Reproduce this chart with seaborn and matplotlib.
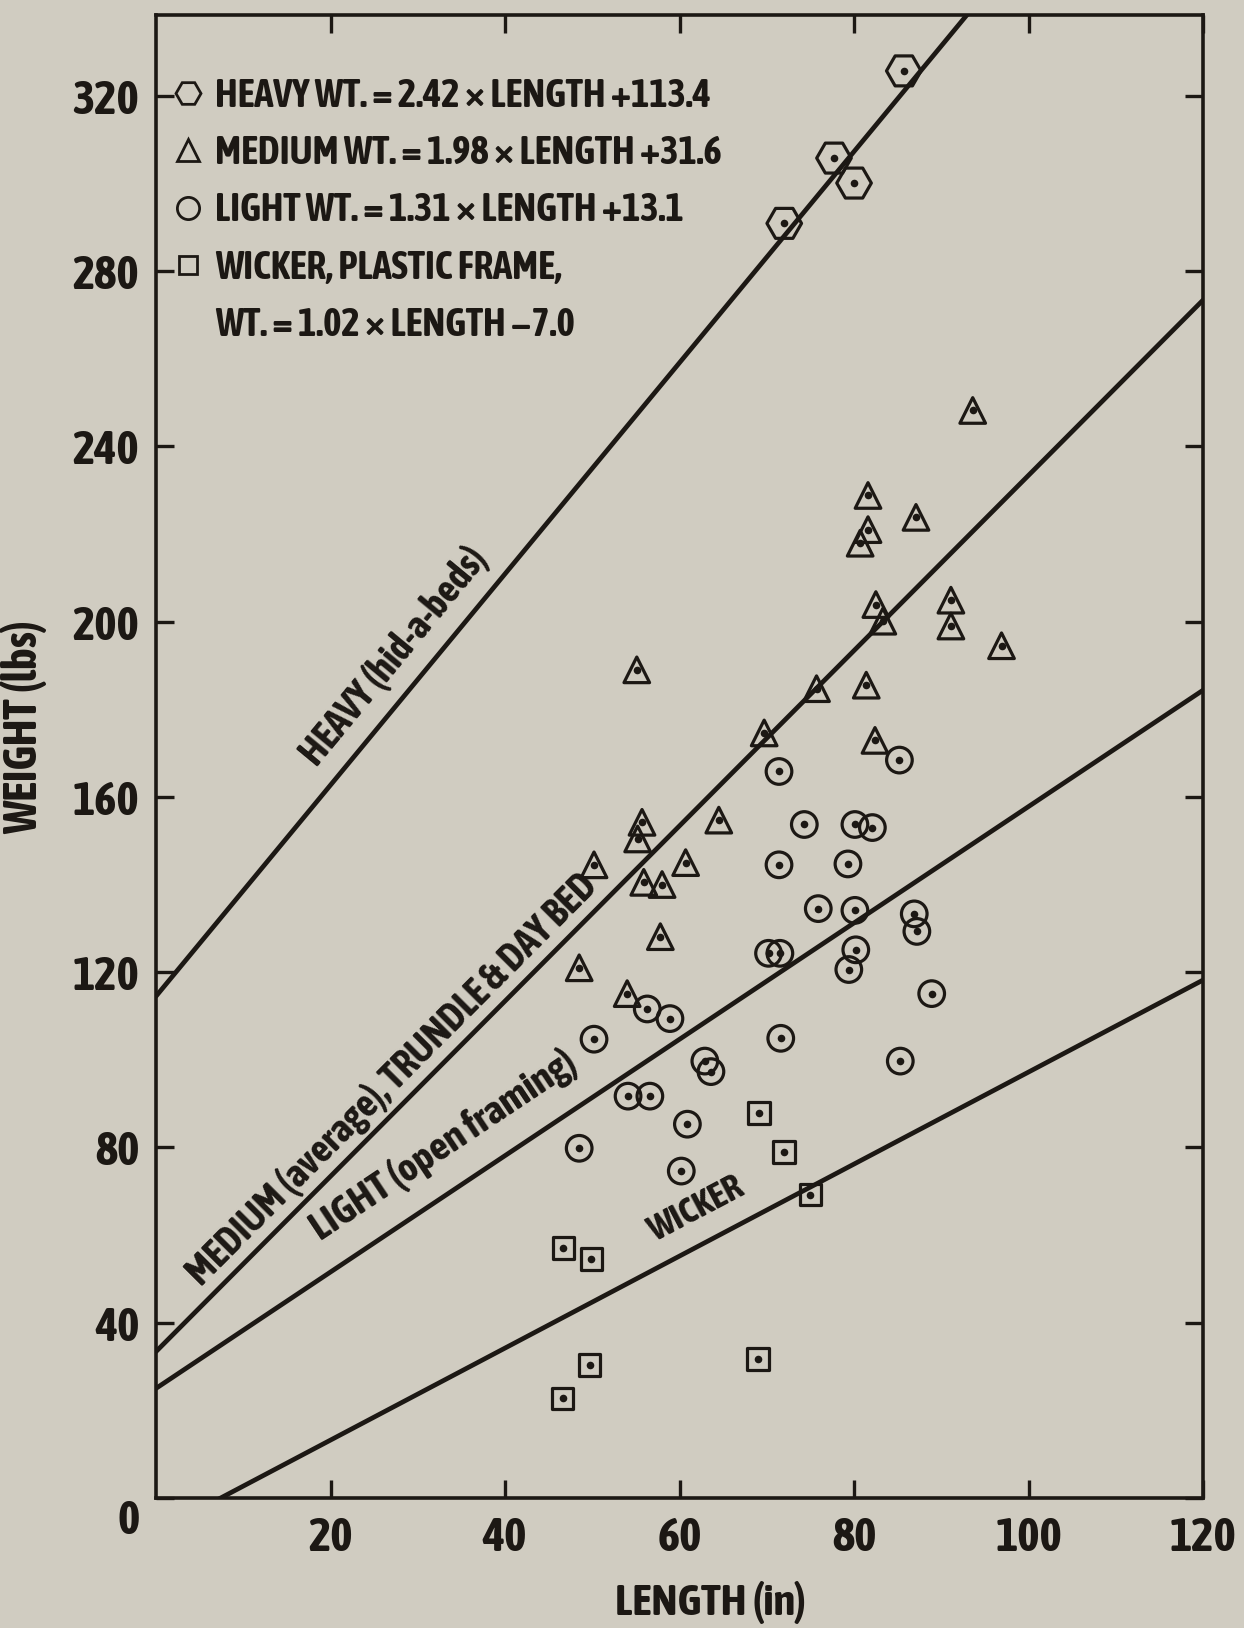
import numpy as np
import pandas as pd
import matplotlib.pyplot as plt
import seaborn as sns
from matplotlib.lines import Line2D
from matplotlib import font_manager as fm

# points: length (in), weight (lbs)
heavy_len = [85.7, 77.7, 80.0, 72.0]
heavy_wt = [325.7, 305.8, 300.1, 290.9]

medium_len = [93.6, 81.6, 81.6, 80.7, 87.1, 82.5, 83.3, 91.1, 91.1, 96.9, 55.1,
              75.7, 81.4, 82.4, 69.7, 64.5, 55.7, 55.2, 50.2, 60.7, 55.9, 58.0,
              57.8, 48.5, 54.0]
medium_wt = [248.2, 228.8, 221.0, 217.9, 223.8, 203.9, 200.1, 204.9, 199.0, 194.5,
             189.0, 184.7, 185.5, 172.9, 174.6, 154.7, 154.2, 150.4, 144.5, 145.0,
             140.5, 140.0, 128.1, 121.0, 115.1]

light_len = [85.2, 71.4, 74.3, 80.1, 82.1, 71.4, 79.3, 75.9, 80.1, 86.9, 87.2,
             70.2, 71.5, 80.2, 79.4, 88.9, 56.3, 58.9, 50.2, 71.6, 62.9, 63.6,
             85.3, 54.1, 56.6, 60.9, 48.5, 60.2]
light_wt = [168.4, 165.8, 153.7, 153.7, 153.0, 144.5, 144.7, 134.5, 134.1, 133.3,
            129.3, 124.3, 124.3, 125.1, 120.6, 115.1, 111.6, 109.4, 104.7, 104.9,
            99.7, 97.3, 99.7, 91.7, 91.7, 85.3, 79.8, 74.6]

wicker_len = [69.1, 72.0, 75.0, 46.7, 49.9, 49.7, 69.0, 46.6]
wicker_wt = [87.9, 78.9, 69.2, 57.1, 54.5, 30.3, 31.7, 22.7]

# fitted lines as drawn on the chart
line_names = ["HEAVY", "MEDIUM", "LIGHT", "WICKER"]
line_slope = [2.41, 2.0, 1.328, 1.05]
line_icpt = [114.5, 33.4, 25.0, -7.8]

line_text = ["HEAVY (hid-a-beds)", "MEDIUM (average), TRUNDLE & DAY BED",
             "LIGHT (open framing)", "WICKER"]
line_text_x = [27.3, 27.0, 33.0, 61.9]
line_text_y = [192.1, 95.5, 80.5, 65.8]
line_text_size = [28, 28, 29, 26]

legend_labels = ["HEAVY WT. = 2.42 × LENGTH +113.4",
                 "MEDIUM WT. = 1.98 × LENGTH +31.6",
                 "LIGHT WT. = 1.31 × LENGTH +13.1",
                 "WICKER, PLASTIC FRAME,",
                 "WT. = 1.02 × LENGTH −7.0"]

xticks = [20, 40, 60, 80, 100, 120]
yticks = [0, 40, 80, 120, 160, 200, 240, 280, 320]

ink = "#1c1814"
paper = "#d0ccc1"

# look for a narrow / condensed face, the original lettering is condensed
narrow = None
stretch = "normal"
for f in fm.fontManager.ttflist:
    st = str(f.stretch)
    if "Narrow" in f.name or "Condensed" in f.name or "condensed" in st:
        if narrow is None or "Bold" in f.fname or "bold" in str(f.weight):
            narrow = f.name
            stretch = f.stretch
            if "DejaVu" not in f.name:
                break

sns.set_style("ticks")
if narrow:
    plt.rcParams["font.family"] = [narrow, "DejaVu Sans"]
    plt.rcParams["font.stretch"] = stretch
    fs = 1.0
else:
    plt.rcParams["font.family"] = ["Roboto", "DejaVu Sans"]
    fs = 0.85
plt.rcParams["font.weight"] = "bold"

fig = plt.figure(figsize=(12.44, 16.28), dpi=100, facecolor=paper)
ax = fig.add_axes([0.1254, 0.0799, 0.8417, 0.911])
ax.set_facecolor(paper)

groups = {
    "heavy": (heavy_len, heavy_wt, "H", 620),
    "medium": (medium_len, medium_wt, "^", 340),
    "light": (light_len, light_wt, "o", 340),
    "wicker": (wicker_len, wicker_wt, "s", 240),
}
for name, (xs, ys, mk, size) in groups.items():
    df = pd.DataFrame({"length": xs, "weight": ys})
    sns.scatterplot(data=df, x="length", y="weight", marker=mk, s=size,
                    facecolor="none", edgecolor=ink, linewidth=2.3, ax=ax, zorder=3)
    sns.scatterplot(data=df, x="length", y="weight", marker="o", s=30,
                    color=ink, edgecolor=ink, linewidth=0, ax=ax, zorder=4)

xx = np.array([0.0, 120.0])
lines = pd.concat([pd.DataFrame({"x": xx, "y": b + m * xx, "kind": n})
                   for n, m, b in zip(line_names, line_slope, line_icpt)])
sns.lineplot(data=lines, x="x", y="y", units="kind", estimator=None,
             color=ink, linewidth=3.4, ax=ax, zorder=2)

for txt, tx, ty, m, sz in zip(line_text, line_text_x, line_text_y, line_slope, line_text_size):
    ax.text(tx, ty, txt, rotation=np.degrees(np.arctan(m)), transform_rotates_text=True,
            rotation_mode="anchor", ha="center", va="center", fontsize=sz * fs,
            fontweight="bold", color=ink)

handles = [
    Line2D([], [], marker="H", ls="none", mfc="none", mec=ink, ms=18, mew=2),
    Line2D([], [], marker="^", ls="none", mfc="none", mec=ink, ms=16, mew=2),
    Line2D([], [], marker="o", ls="none", mfc="none", mec=ink, ms=16, mew=2),
    Line2D([], [], marker="s", ls="none", mfc="none", mec=ink, ms=13, mew=2),
    Line2D([], [], ls="none"),
]
leg = ax.legend(handles, legend_labels, loc="upper left", bbox_to_anchor=(-0.018, 0.982),
                frameon=False, handlelength=0.8, handletextpad=0.3, labelspacing=0.5,
                prop={"size": 28 * fs, "weight": "bold"}, labelcolor=ink)

ax.set_xlim(0, 120)
ax.set_ylim(0, 338.5)
ax.set_xticks(xticks)
ax.set_yticks(yticks)
ax.tick_params(direction="in", length=13, width=2.4, color=ink, top=True, right=True,
               labelsize=34 * fs, labelcolor=ink)
ax.tick_params(axis="y", pad=12)
ax.tick_params(axis="x", pad=12)
for lab in ax.get_xticklabels() + ax.get_yticklabels():
    lab.set_fontweight("bold")
ax.get_yticklabels()[0].set_verticalalignment("top")
for sp in ax.spines.values():
    sp.set_linewidth(2.6)
    sp.set_color(ink)

ax.set_xlabel("LENGTH (in)", fontsize=32 * fs, fontweight="bold", color=ink)
ax.xaxis.set_label_coords(0.53, -0.056)
ax.set_ylabel("WEIGHT (lbs)", fontsize=33 * fs, fontweight="bold", color=ink)
ax.yaxis.set_label_coords(-0.104, 0.52)

fig.savefig("out.png", dpi=100, facecolor=paper)
